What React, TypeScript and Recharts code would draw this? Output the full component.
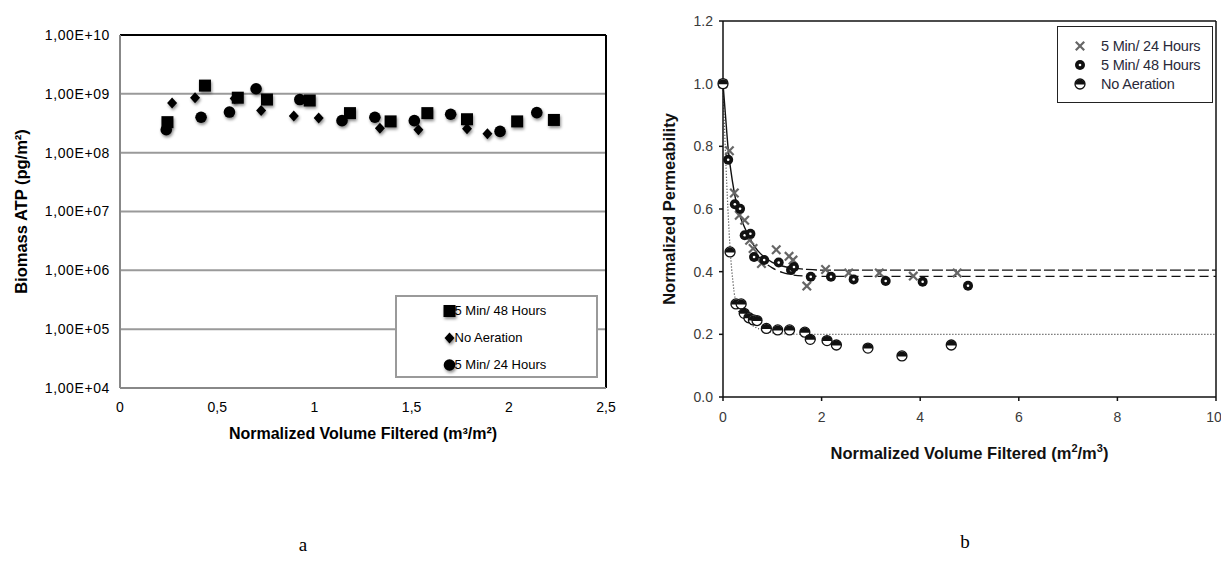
import React from "react";
import {
  ComposedChart,
  Label,
  Legend,
  Line,
  CartesianGrid,
  ReferenceLine,
  Scatter,
  ScatterChart,
  XAxis,
  YAxis,
} from "recharts";

// panel a: biomass ATP (pg/m2) against normalized volume filtered
const atp48h = [
  { x: 0.244, y: 3.3e8 },
  { x: 0.437, y: 1.38e9 },
  { x: 0.606, y: 8.6e8 },
  { x: 0.756, y: 8.0e8 },
  { x: 0.976, y: 7.7e8 },
  { x: 1.183, y: 4.7e8 },
  { x: 1.392, y: 3.4e8 },
  { x: 1.581, y: 4.7e8 },
  { x: 1.785, y: 3.7e8 },
  { x: 2.043, y: 3.4e8 },
  { x: 2.232, y: 3.6e8 },
];
const atpNoAeration = [
  { x: 0.268, y: 7.0e8 },
  { x: 0.386, y: 8.6e8 },
  { x: 0.59, y: 8.3e8 },
  { x: 0.726, y: 5.2e8 },
  { x: 0.894, y: 4.2e8 },
  { x: 1.022, y: 3.9e8 },
  { x: 1.337, y: 2.6e8 },
  { x: 1.535, y: 2.45e8 },
  { x: 1.785, y: 2.55e8 },
  { x: 1.89, y: 2.1e8 },
];
const atp24h = [
  { x: 0.238, y: 2.45e8 },
  { x: 0.417, y: 4.0e8 },
  { x: 0.563, y: 4.9e8 },
  { x: 0.7, y: 1.22e9 },
  { x: 0.925, y: 8.0e8 },
  { x: 1.142, y: 3.5e8 },
  { x: 1.311, y: 4.0e8 },
  { x: 1.514, y: 3.5e8 },
  { x: 1.701, y: 4.5e8 },
  { x: 1.955, y: 2.3e8 },
  { x: 2.144, y: 4.8e8 },
];
const atpTicks = [1e4, 1e5, 1e6, 1e7, 1e8, 1e9, 1e10];
const volTicksA = [0, 0.5, 1, 1.5, 2, 2.5];
const seriesA = ["5 Min/ 48 Hours", "No Aeration", "5 Min/ 24 Hours"];

// panel b: normalized permeability
const perm24h = [
  { x: 0, y: 1.0 },
  { x: 0.13, y: 0.786 },
  { x: 0.23, y: 0.651 },
  { x: 0.33, y: 0.58 },
  { x: 0.44, y: 0.564 },
  { x: 0.54, y: 0.5 },
  { x: 0.61, y: 0.474 },
  { x: 0.78, y: 0.426 },
  { x: 1.08, y: 0.47 },
  { x: 1.34, y: 0.449 },
  { x: 1.42, y: 0.437 },
  { x: 1.7, y: 0.354 },
  { x: 2.08, y: 0.407 },
  { x: 2.55, y: 0.396 },
  { x: 3.17, y: 0.396 },
  { x: 3.86, y: 0.386 },
  { x: 4.75, y: 0.396 },
];
const perm48h = [
  { x: 0, y: 1.0 },
  { x: 0.105, y: 0.757 },
  { x: 0.24, y: 0.615 },
  { x: 0.346, y: 0.601 },
  { x: 0.44, y: 0.516 },
  { x: 0.556, y: 0.521 },
  { x: 0.63, y: 0.447 },
  { x: 0.835, y: 0.437 },
  { x: 1.13, y: 0.429 },
  { x: 1.38, y: 0.405 },
  { x: 1.44, y: 0.415 },
  { x: 1.78, y: 0.384 },
  { x: 2.19, y: 0.384 },
  { x: 2.65, y: 0.375 },
  { x: 3.3, y: 0.37 },
  { x: 4.05, y: 0.368 },
  { x: 4.97, y: 0.355 },
];
const permNoAeration = [
  { x: 0, y: 1.0 },
  { x: 0.143, y: 0.463 },
  { x: 0.263, y: 0.297 },
  { x: 0.368, y: 0.297 },
  { x: 0.43, y: 0.267 },
  { x: 0.526, y: 0.253 },
  { x: 0.617, y: 0.246 },
  { x: 0.69, y: 0.244 },
  { x: 0.88, y: 0.219 },
  { x: 1.11, y: 0.214 },
  { x: 1.35, y: 0.214 },
  { x: 1.66, y: 0.207 },
  { x: 1.77, y: 0.184 },
  { x: 2.11, y: 0.18 },
  { x: 2.3, y: 0.166 },
  { x: 2.94, y: 0.156 },
  { x: 3.63, y: 0.131 },
  { x: 4.63, y: 0.166 },
];
// fitted curves
const fit24hHead = [
  { x: 0, y: 1.0 },
  { x: 0.05, y: 0.9 },
  { x: 0.1, y: 0.8 },
  { x: 0.2, y: 0.68 },
  { x: 0.3, y: 0.6 },
  { x: 0.4, y: 0.555 },
  { x: 0.5, y: 0.52 },
  { x: 0.6, y: 0.49 },
  { x: 0.7, y: 0.468 },
  { x: 0.85, y: 0.445 },
  { x: 1.0, y: 0.43 },
  { x: 1.2, y: 0.418 },
  { x: 1.4, y: 0.411 },
];
const fit24hTail = [
  { x: 1.4, y: 0.411 },
  { x: 1.7, y: 0.407 },
  { x: 2.0, y: 0.405 },
  { x: 10, y: 0.405 },
];
const fit48h = [
  { x: 0.7, y: 0.452 },
  { x: 0.85, y: 0.428 },
  { x: 1.0, y: 0.412 },
  { x: 1.2, y: 0.398 },
  { x: 1.4, y: 0.39 },
  { x: 1.7, y: 0.386 },
  { x: 2.2, y: 0.385 },
  { x: 10, y: 0.385 },
];
const fitNoAeration = [
  { x: 0, y: 1.0 },
  { x: 0.05, y: 0.78 },
  { x: 0.1, y: 0.6 },
  { x: 0.15, y: 0.46 },
  { x: 0.2, y: 0.37 },
  { x: 0.25, y: 0.31 },
  { x: 0.3, y: 0.28 },
  { x: 0.4, y: 0.255 },
  { x: 0.5, y: 0.24 },
  { x: 0.6, y: 0.228 },
  { x: 0.8, y: 0.213 },
  { x: 1.0, y: 0.205 },
  { x: 1.3, y: 0.201 },
  { x: 1.7, y: 0.2 },
  { x: 10, y: 0.2 },
];
const permTicks = [0, 0.2, 0.4, 0.6, 0.8, 1.0, 1.2];
const volTicksB = [0, 2, 4, 6, 8, 10];
const seriesB = ["5 Min/ 24 Hours", "5 Min/ 48 Hours", "No Aeration"];

const sans = '"Liberation Sans", Arial, sans-serif';
const shadow = { filter: "drop-shadow(1px 2px 1.5px rgba(0,0,0,0.45))" };

// markers, panel a
function SquareA({ cx, cy }: any) {
  return <rect x={cx - 6} y={cy - 6} width={12} height={12} fill="#000" style={shadow} />;
}
function DiamondA({ cx, cy }: any) {
  return (
    <polygon
      points={`${cx},${cy - 5.5} ${cx + 5},${cy} ${cx},${cy + 5.5} ${cx - 5},${cy}`}
      fill="#000"
      style={shadow}
    />
  );
}
function CircleA({ cx, cy }: any) {
  return <circle cx={cx} cy={cy} r={5.8} fill="#000" style={shadow} />;
}

// markers, panel b
function CrossB({ cx, cy }: any) {
  return (
    <g stroke="#666" strokeWidth={2.2}>
      <line x1={cx - 4.2} y1={cy - 4.2} x2={cx + 4.2} y2={cy + 4.2} />
      <line x1={cx - 4.2} y1={cy + 4.2} x2={cx + 4.2} y2={cy - 4.2} />
    </g>
  );
}
function RingB({ cx, cy }: any) {
  return (
    <g>
      <circle cx={cx} cy={cy} r={5} fill="#111" />
      <circle cx={cx} cy={cy} r={1.3} fill="#fff" />
    </g>
  );
}
function HalfB({ cx, cy }: any) {
  return (
    <g>
      <circle cx={cx} cy={cy} r={5} fill="#fff" stroke="#111" strokeWidth={1.3} />
      <path d={`M${cx - 5},${cy + 0.5} A5,5 0 0 1 ${cx + 5},${cy + 0.5} Z`} fill="#111" />
    </g>
  );
}

const markersA = [SquareA, DiamondA, CircleA];
const markersB = [CrossB, RingB, HalfB];

function LegendA() {
  return (
    <div style={{ display: "flex", flexDirection: "column", alignItems: "center" }}>
      {seriesA.map((name, i) => {
        const M = markersA[i];
        return (
          <div key={"a" + i} style={{ display: "flex", alignItems: "center", height: 27, width: 106, fontSize: 13, color: "#000" }}>
            <svg width={11} height={12} style={{ overflow: "visible" }}>
              <M cx={5.5} cy={6} />
            </svg>
            <span>{name}</span>
          </div>
        );
      })}
    </div>
  );
}

function LegendB() {
  return (
    <div style={{ display: "flex", flexDirection: "column", paddingTop: 9, paddingLeft: 16 }}>
      {seriesB.map((name, i) => {
        const M = markersB[i];
        return (
          <div key={"b" + i} style={{ display: "flex", alignItems: "center", height: 19, fontSize: 14.5, color: "#2a2a3a" }}>
            <svg width={12} height={12} style={{ overflow: "visible" }}>
              <M cx={6} cy={6} />
            </svg>
            <span style={{ marginLeft: 15, letterSpacing: -0.2 }}>{name}</span>
          </div>
        );
      })}
    </div>
  );
}

function ChartA() {
  return (
    <ScatterChart width={620} height={460} margin={{ top: 35, right: 14, bottom: 42, left: 0 }} style={{ fontFamily: sans }}>
      <CartesianGrid horizontal vertical={false} stroke="#9a9a9a" strokeWidth={2} />
      <XAxis
        type="number"
        dataKey="x"
        domain={[0, 2.5]}
        ticks={volTicksA}
        tickFormatter={(v: number) => String(v).replace(".", ",")}
        axisLine={{ stroke: "#888", strokeWidth: 2 }}
        tickLine={false}
        tickSize={0}
        tickMargin={14}
        height={30}
        tick={{ fill: "#000", fontSize: 14 }}
      >
        <Label
          content={({ viewBox }: any) => (
            <text x={viewBox.x + viewBox.width / 2} y={viewBox.y + 51} textAnchor="middle" fontSize={16} fontWeight="bold" fill="#000">
              Normalized Volume Filtered (m³/m²)
            </text>
          )}
        />
      </XAxis>
      <YAxis
        type="number"
        dataKey="y"
        scale="log"
        domain={[1e4, 1e10]}
        ticks={atpTicks}
        tickFormatter={(v: number) => "1,00E+" + String(Math.round(Math.log10(v))).padStart(2, "0")}
        axisLine={{ stroke: "#888", strokeWidth: 2 }}
        tickLine={false}
        tickSize={0}
        tickMargin={10}
        width={120}
        tick={{ fill: "#000", fontSize: 14, letterSpacing: 0.6 }}
      >
        <Label
          content={({ viewBox }: any) => {
            const cy = viewBox.y + viewBox.height / 2;
            return (
              <text x={21} y={cy} transform={`rotate(-90 21 ${cy})`} textAnchor="middle" dominantBaseline="central" fontSize={16.5} fontWeight="bold" fill="#000">
                Biomass ATP (pg/m²)
              </text>
            );
          }}
        />
      </YAxis>
      <ReferenceLine y={1e10} stroke="#000" strokeWidth={2} />
      <ReferenceLine x={2.5} stroke="#000" strokeWidth={2} />
      <Legend
        layout="vertical"
        align="center"
        verticalAlign="middle"
        content={<LegendA />}
        wrapperStyle={{ left: 395, top: 295, width: 203, height: 83, border: "2px solid #9a9a9a", background: "#fff", boxSizing: "border-box" }}
      />
      <Scatter name="5 Min/ 48 Hours" data={atp48h} shape={<SquareA />} isAnimationActive={false} />
      <Scatter name="No Aeration" data={atpNoAeration} shape={<DiamondA />} isAnimationActive={false} />
      <Scatter name="5 Min/ 24 Hours" data={atp24h} shape={<CircleA />} isAnimationActive={false} />
    </ScatterChart>
  );
}

function ChartB() {
  return (
    <ComposedChart width={581} height={500} margin={{ top: 21, right: 5, bottom: 73, left: 0 }} style={{ fontFamily: sans }}>
      <XAxis
        type="number"
        dataKey="x"
        domain={[0, 10]}
        ticks={volTicksB}
        axisLine={{ stroke: "#111", strokeWidth: 1.5 }}
        tickLine={{ stroke: "#111", strokeWidth: 1.5 }}
        tickSize={4}
        tickMargin={11}
        height={30}
        tick={{ fill: "#3a3a3a", fontSize: 14 }}
      >
        <Label
          content={({ viewBox }: any) => (
            <text x={viewBox.x + viewBox.width / 2} y={viewBox.y + 62} textAnchor="middle" fontSize={16.5} fontWeight="bold" fill="#111">
              Normalized Volume Filtered (m
              <tspan dy={-7} fontSize={11}>2</tspan>
              <tspan dy={7}>/m</tspan>
              <tspan dy={-7} fontSize={11}>3</tspan>
              <tspan dy={7}>)</tspan>
            </text>
          )}
        />
      </XAxis>
      <YAxis
        type="number"
        dataKey="y"
        domain={[0, 1.2]}
        ticks={permTicks}
        tickFormatter={(v: number) => v.toFixed(1)}
        axisLine={{ stroke: "#111", strokeWidth: 1.5 }}
        tickLine={{ stroke: "#111", strokeWidth: 1.5 }}
        tickSize={4}
        tickMargin={6}
        width={83}
        tick={{ fill: "#3a3a3a", fontSize: 14 }}
      >
        <Label
          content={({ viewBox }: any) => {
            const cy = viewBox.y + viewBox.height / 2;
            return (
              <text x={29} y={cy} transform={`rotate(-90 29 ${cy})`} textAnchor="middle" dominantBaseline="central" fontSize={16.5} fontWeight="bold" fill="#111">
                Normalized Permeability
              </text>
            );
          }}
        />
      </YAxis>
      <ReferenceLine y={1.2} stroke="#111" strokeWidth={1.5} />
      <ReferenceLine x={10} stroke="#111" strokeWidth={1.5} />
      <Line data={fit24hHead} dataKey="y" name="fit 24h" type="monotone" stroke="#111" strokeWidth={1.4} dot={false} activeDot={false} legendType="none" isAnimationActive={false} />
      <Line data={fit24hTail} dataKey="y" name="fit 24h tail" type="monotone" stroke="#111" strokeWidth={1.3} strokeDasharray="11 3" dot={false} activeDot={false} legendType="none" isAnimationActive={false} />
      <Line data={fit48h} dataKey="y" name="fit 48h" type="monotone" stroke="#111" strokeWidth={1.3} strokeDasharray="9 5" dot={false} activeDot={false} legendType="none" isAnimationActive={false} />
      <Line data={fitNoAeration} dataKey="y" name="fit none" type="monotone" stroke="#333" strokeWidth={1.2} strokeDasharray="1 2" dot={false} activeDot={false} legendType="none" isAnimationActive={false} />
      <Scatter name="5 Min/ 24 Hours" data={perm24h} shape={<CrossB />} isAnimationActive={false} />
      <Scatter name="5 Min/ 48 Hours" data={perm48h} shape={<RingB />} isAnimationActive={false} />
      <Scatter name="No Aeration" data={permNoAeration} shape={<HalfB />} isAnimationActive={false} />
      <Legend
        layout="vertical"
        align="center"
        verticalAlign="middle"
        content={<LegendB />}
        wrapperStyle={{ left: 417, top: 26, width: 156, height: 77, border: "1.5px solid #222", background: "#fff", boxSizing: "border-box" }}
      />
    </ComposedChart>
  );
}

export default function App() {
  return (
    <div style={{ position: "absolute", left: 0, top: 0, width: 1221, height: 567, background: "#fff", overflow: "hidden" }}>
      <div style={{ position: "absolute", left: 0, top: 0 }}>
        <ChartA />
      </div>
      <div style={{ position: "absolute", left: 640, top: 0 }}>
        <ChartB />
      </div>
      <div style={{ position: "absolute", left: 283, top: 534, width: 40, textAlign: "center", fontFamily: '"Liberation Serif", serif', fontSize: 19 }}>a</div>
      <div style={{ position: "absolute", left: 945, top: 531, width: 40, textAlign: "center", fontFamily: '"Liberation Serif", serif', fontSize: 19 }}>b</div>
    </div>
  );
}
